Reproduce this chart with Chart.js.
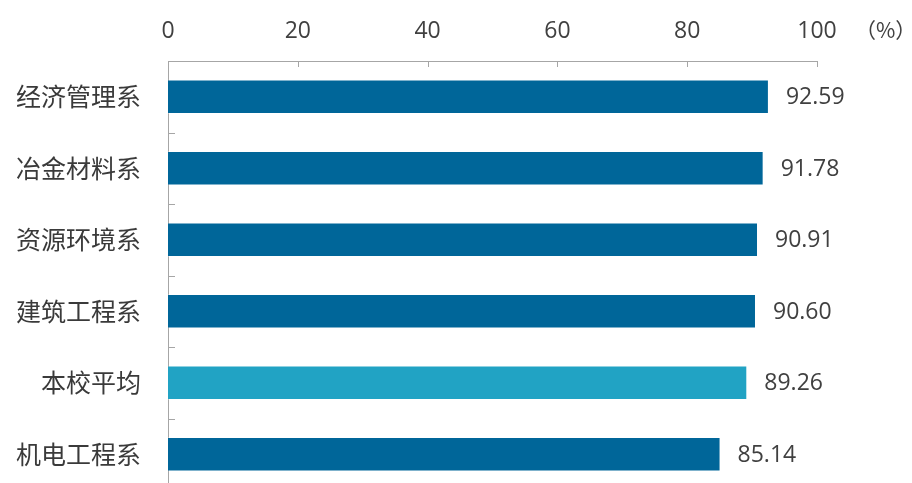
<!DOCTYPE html>
<html>
<head>
<meta charset="utf-8">
<script src="https://cdn.jsdelivr.net/npm/chart.js@4.4.0/dist/chart.umd.min.js"></script>
<style>
  html, body { margin: 0; padding: 0; background: #fff; overflow: hidden; }
  #wrap { width: 912px; height: 490px; }
</style>
</head>
<body>
<div id="wrap"><canvas id="myChart" width="912" height="490"></canvas></div>
<script>
var departments = ["经济管理系", "冶金材料系", "资源环境系", "建筑工程系", "本校平均", "机电工程系"];
var rates = [92.59, 91.78, 90.91, 90.60, 89.26, 85.14];
var barColors = ["#006699", "#006699", "#006699", "#006699", "#21A3C4", "#006699"];
var xTicks = [0, 20, 40, 60, 80, 100];
var unitLabel = "（%）";

var axisGray = "#a6a6a6";
var textColor = "#404040";

// little tick marks drawn inside the plot, plus the value labels
var extras = {
  id: "extras",
  afterDraw: function(chart) {
    var ctx = chart.ctx;
    var area = chart.chartArea;
    var xs = chart.scales.x;
    var ys = chart.scales.y;
    ctx.save();
    ctx.strokeStyle = axisGray;
    ctx.lineWidth = 1;
    xTicks.forEach(function(v) {
      var px = Math.round(xs.getPixelForValue(v)) + 0.5;
      ctx.beginPath();
      ctx.moveTo(px, area.top);
      ctx.lineTo(px, area.top + 6);
      ctx.stroke();
    });
    for (var i = 1; i < departments.length; i++) {
      var py = Math.round((ys.getPixelForValue(i - 1) + ys.getPixelForValue(i)) / 2) + 0.5;
      ctx.beginPath();
      ctx.moveTo(area.left, py);
      ctx.lineTo(area.left + 7, py);
      ctx.stroke();
    }

    ctx.fillStyle = textColor;
    ctx.font = "23px 'Open Sans'";
    ctx.textAlign = "left";
    ctx.textBaseline = "middle";
    chart.getDatasetMeta(0).data.forEach(function(bar, i) {
      ctx.fillText(rates[i].toFixed(2), bar.x + 17, bar.y + 1);
    });

    ctx.font = "21px 'Noto Sans CJK SC'";
    ctx.fillText(unitLabel, xs.getPixelForValue(100) + 38, 30);
    ctx.restore();
  }
};

var chart = new Chart(document.getElementById("myChart").getContext("2d"), {
  type: "bar",
  data: {
    labels: departments,
    datasets: [{
      data: rates,
      backgroundColor: barColors,
      borderColor: "rgba(255,255,255,0.25)",
      borderWidth: 1,
      categoryPercentage: 1,
      barPercentage: 0.48
    }]
  },
  options: {
    indexAxis: "y",
    responsive: false,
    maintainAspectRatio: false,
    animation: false,
    layout: { padding: { top: 0, right: 95, left: 0, bottom: 0 } },
    plugins: {
      legend: { display: false },
      tooltip: { enabled: false }
    },
    scales: {
      x: {
        position: "top",
        min: 0,
        max: 100,
        afterBuildTicks: function(scale) {
          scale.ticks = xTicks.map(function(v) { return { value: v }; });
        },
        afterFit: function(scale) { scale.height = 61; },
        grid: { display: false, drawTicks: false },
        border: { display: true, color: axisGray, width: 1 },
        ticks: {
          color: textColor,
          font: { family: "'Open Sans'", size: 23 },
          padding: 16,
          maxRotation: 0
        }
      },
      y: {
        afterFit: function(scale) {
          scale.width = 168;
          scale.paddingTop = 0;
          scale.paddingBottom = 0;
        },
        grid: { display: false, drawTicks: false },
        border: { display: true, color: axisGray, width: 1 },
        ticks: {
          color: "#3a3a3a",
          font: { family: "'Noto Sans CJK SC'", size: 25 },
          padding: 27
        }
      }
    }
  },
  plugins: [extras]
});
</script>
</body>
</html>
